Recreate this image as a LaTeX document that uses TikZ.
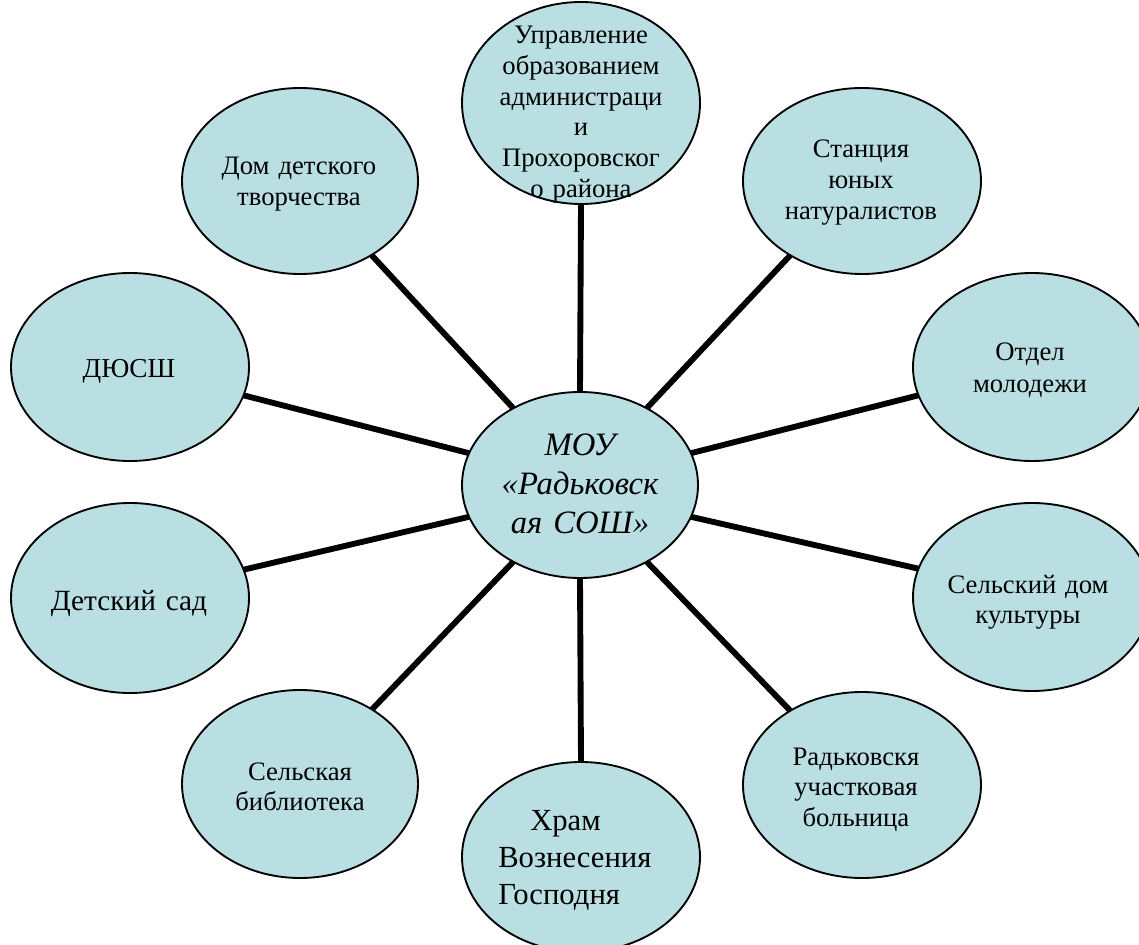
\documentclass[tikz,border=0pt]{standalone}
\usepackage{fontspec}
\setmainfont{Liberation Serif}
\usetikzlibrary{shapes.geometric}
\definecolor{bubblefill}{RGB}{186,223,227}
\tikzset{
  bub/.style n args={2}{ellipse, draw=black, line width=1.4pt, fill=bubblefill,
    minimum width=#1*1.5pt, minimum height=#2*1.5pt, inner sep=0pt, outer sep=0pt},
  lbl/.style={text width=220pt, align=center, anchor=base, inner sep=0pt,
    font=\fontsize{20pt}{23pt}\selectfont},
  link/.style={draw=black, line width=4.4pt}
}
\begin{document}
\begin{tikzpicture}[x=0.75pt,y=-0.75pt]
\useasboundingbox (0,0) rectangle (1139,945);
% ellipses
\node[bub={119}{101}] (T)   at (581,103) {};
\node[bub={118}{93}]  (C)   at (580,485) {};
\node[bub={119}{95}]  (HR)  at (581,857) {};
\node[bub={118}{93}]  (DDT) at (300,181) {};
\node[bub={119}{93}]  (SUN) at (862,181) {};
\node[bub={119}{94}]  (DU)  at (130,367) {};
\node[bub={119}{94}]  (OM)  at (1032,367) {};
\node[bub={119}{95}]  (DS)  at (130,598) {};
\node[bub={119}{94}]  (SDK) at (1032,597) {};
\node[bub={118}{94}]  (SB)  at (300,784) {};
\node[bub={119}{93}]  (RB)  at (862,785) {};
% connectors
\draw[link] (T.270)   -- (C.90);
\draw[link] (HR.90)   -- (C.270);
\draw[link] (DDT.-46) -- (C.131);
\draw[link] (SUN.226) -- (C.49);
\draw[link] (DU.-14)  -- (C.164);
\draw[link] (OM.194)  -- (C.16);
\draw[link] (DS.14)   -- (C.196);
\draw[link] (SDK.166) -- (C.-16);
\draw[link] (SB.46)   -- (C.229);
\draw[link] (RB.134)  -- (C.311);
% texts
\node[lbl] (Ttext) at (581,44) {Управление\\образованием\\администраци\\и\\Прохоровског\\о района};
\node[lbl, font=\itshape\fontsize{24.5pt}{29.5pt}\selectfont] (Ctext) at (580,455) {МОУ\\«Радьковск\\ая СОШ»};
\node[lbl, text width=200pt, align=flush left, anchor=base west, font=\fontsize{23pt}{28pt}\selectfont] (HRtext) at (498,830) {\hspace*{24pt}Храм\\Вознесения\\Господня};
\node[lbl] (DDTtext) at (299,175) {Дом детского\\творчества};
\node[lbl] (SUNtext) at (861,158) {Станция\\юных\\натуралистов};
\node[lbl, font=\fontsize{20.5pt}{23pt}\selectfont] (DUtext) at (129,377) {ДЮСШ};
\node[lbl, font=\fontsize{22pt}{26pt}\selectfont] (DStext) at (129,610) {Детский сад};
\node[lbl, font=\fontsize{20pt}{24pt}\selectfont] (OMtext) at (1030,360) {Отдел\\молодежи};
\node[lbl] (SDKtext) at (1028,593) {Сельский дом\\культуры};
\node[lbl] (SBtext) at (300,780) {Сельская\\библиотека};
\node[lbl] (RBtext) at (856,765) {Радьковскя\\участковая\\больница};
\end{tikzpicture}
\end{document}
